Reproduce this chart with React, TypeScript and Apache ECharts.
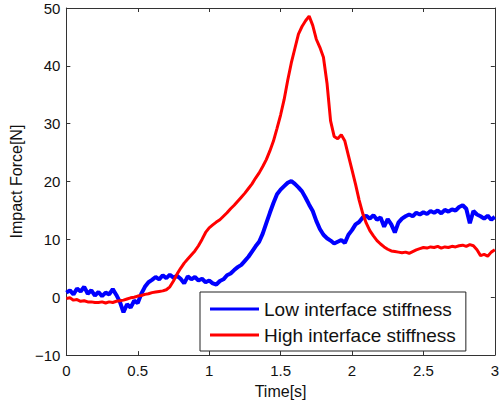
import React, { useEffect, useRef } from "react";
import * as echarts from "echarts";

const timeStep = 0.025;
const xTicks = ["0", "0.5", "1", "1.5", "2", "2.5", "3"];
const yTicks = ["-10", "0", "10", "20", "30", "40", "50"];
const seriesNames = ["Low interface stiffness", "High interface stiffness"];

const lowStiffness = [
  0.8, 1.2, 0.5, 1.5, 1.0, 1.8, 0.6, 1.2, 0.3, 0.9,
  0.2, 0.8, 0.5, 1.4, 0.4, -0.8, -2.6, -1.2, -1.8, -0.6,
  -1.0, 0.6, 1.8, 2.6, 3.0, 3.5, 3.1, 3.8, 3.3, 3.9,
  3.4, 3.7, 3.2, 2.4, 3.6, 3.1, 3.5, 2.9, 3.2, 2.6,
  2.9, 2.4, 2.2, 2.8, 3.1, 3.8, 4.1, 4.7, 5.2, 5.6,
  6.3, 7.0, 7.9, 8.8, 9.6, 11.0, 12.8, 14.6, 16.3, 17.8,
  18.6, 19.2, 19.8, 20.1, 19.6, 19.0, 18.3, 17.2, 16.0, 14.9,
  13.2, 11.8, 10.8, 10.2, 9.8, 9.3, 9.6, 9.9, 9.4, 10.8,
  11.6, 12.6, 13.0, 13.8, 14.1, 13.6, 14.2, 13.4, 13.8, 12.2,
  13.5, 12.6, 11.2, 12.9, 13.6, 14.0, 14.3, 14.0, 14.6, 14.3,
  14.7, 14.4, 14.9, 14.6, 15.0, 14.5, 15.1, 14.8, 15.2, 15.0,
  15.6, 15.9, 15.3, 12.8, 14.9, 14.3, 14.0, 13.6, 14.1, 13.4,
  13.9,
];

const highStiffness = [
  -0.2, -0.1, -0.5, -0.4, -0.7, -0.6, -0.8, -0.8, -0.9, -0.9,
  -0.8, -1.0, -0.8, -0.9, -0.7, -0.6, -0.5, -0.3, -0.1, 0.0,
  0.2, 0.3, 0.5, 0.6, 0.8, 0.9, 1.0, 1.1, 1.3, 1.8,
  2.8, 4.0, 5.0, 5.9, 6.6, 7.3, 8.0, 8.9, 10.0, 11.2,
  12.0, 12.5, 13.0, 13.4, 14.0, 14.6, 15.3, 15.9, 16.6, 17.3,
  18.0, 18.8, 19.6, 20.6, 21.5, 22.6, 23.8, 25.3, 27.0, 29.2,
  31.5, 34.2, 37.5, 40.5, 43.0, 45.5, 46.8, 47.8, 48.6, 47.0,
  44.6, 43.2, 41.5, 37.0, 30.5, 27.8, 27.4, 28.1, 27.0, 24.5,
  22.0, 19.5, 16.8, 14.5, 12.8, 11.5, 10.6, 9.8, 9.2, 8.7,
  8.3, 8.0, 7.9, 7.8, 7.7, 7.8, 7.6, 7.9, 8.2, 8.4,
  8.6, 8.5, 8.7, 8.6, 8.8, 8.5, 8.7, 8.6, 8.8, 8.7,
  8.9, 9.0, 8.8, 9.1, 8.9, 8.2, 7.2, 7.4, 7.1, 7.8,
  8.2,
];

const toPairs = (vals: number[]) =>
  vals.map((v, i) => [Number((i * timeStep).toFixed(3)), v]);

const FONT = "'Liberation Sans', Arial, sans-serif";
const AXIS_COLOR = "#333";

export default function App() {
  const ref = useRef<HTMLDivElement>(null);
  useEffect(() => {
    if (!ref.current) return;
    const chart = echarts.init(ref.current, null, { renderer: "svg" });
    const commonTick = { show: true, inside: true, length: 4, lineStyle: { color: AXIS_COLOR } };
    const line = { show: true, onZero: false, lineStyle: { color: AXIS_COLOR, width: 1 } };
    chart.setOption({
      animation: false,
      backgroundColor: "#fff",
      grid: { left: 63, top: 8, right: 7, bottom: 46, containLabel: false },
      legend: {
        left: 200,
        top: 292,
        orient: "vertical",
        data: seriesNames,
        icon: "rect",
        backgroundColor: "#fff",
        borderColor: "#222",
        borderWidth: 1,
        borderRadius: 0,
        padding: [7, 10, 6, 10],
        itemGap: 6,
        itemWidth: 49,
        itemHeight: 3,
        textStyle: { fontFamily: FONT, fontSize: 19, color: "#111", lineHeight: 20 },
      },
      xAxis: [
        {
          type: "value",
          min: 0,
          max: 3,
          interval: 0.5,
          name: "Time[s]",
          nameLocation: "middle",
          nameGap: 17,
          nameTextStyle: { fontFamily: FONT, fontSize: 16, color: "#111" },
          axisLine: line,
          axisTick: commonTick,
          axisLabel: {
            fontFamily: FONT,
            fontSize: 15,
            color: "#111",
            margin: 8,
            formatter: (v: number) => xTicks[Math.round(v / 0.5)] ?? String(v),
          },
          splitLine: { show: false },
        },
        {
          type: "value",
          position: "top",
          min: 0,
          max: 3,
          interval: 0.5,
          axisLine: line,
          axisTick: commonTick,
          axisLabel: { show: false },
          splitLine: { show: false },
        },
      ],
      yAxis: [
        {
          type: "value",
          min: -10,
          max: 50,
          interval: 10,
          name: "Impact Force[N]",
          nameLocation: "middle",
          nameRotate: 90,
          nameGap: 38,
          nameTextStyle: { fontFamily: FONT, fontSize: 16, color: "#111" },
          axisLine: line,
          axisTick: commonTick,
          axisLabel: {
            fontFamily: FONT,
            fontSize: 15,
            color: "#111",
            margin: 6,
            formatter: (v: number) => {
              const idx = Math.round((v + 10) / 10);
              const s = yTicks[idx] ?? String(v);
              return s.replace("-", "\u2212");
            },
          },
          splitLine: { show: false },
        },
        {
          type: "value",
          position: "right",
          min: -10,
          max: 50,
          interval: 10,
          axisLine: line,
          axisTick: commonTick,
          axisLabel: { show: false },
          splitLine: { show: false },
        },
      ],
      series: [
        {
          name: seriesNames[0],
          type: "line",
          data: toPairs(lowStiffness),
          showSymbol: false,
          symbol: "none",
          lineStyle: { color: "#0000ff", width: 4 },
          itemStyle: { color: "#0000ff" },
          z: 2,
        },
        {
          name: seriesNames[1],
          type: "line",
          data: toPairs(highStiffness),
          showSymbol: false,
          symbol: "none",
          lineStyle: { color: "#ff0000", width: 3 },
          itemStyle: { color: "#ff0000" },
          z: 3,
        },
      ],
    });
    return () => chart.dispose();
  }, []);
  return (
    <div
      ref={ref}
      style={{ position: "fixed", left: 0, top: 0, width: 502, height: 404 }}
    />
  );
}
